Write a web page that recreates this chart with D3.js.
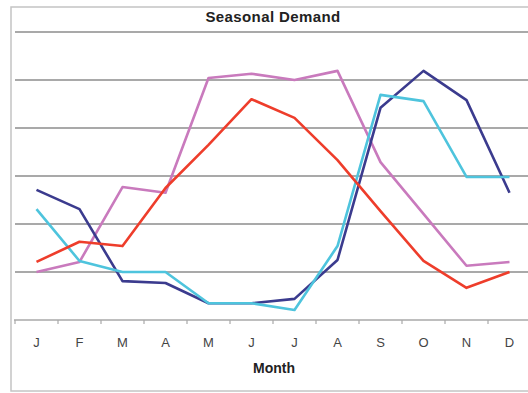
<!DOCTYPE html>
<html>
<head>
<meta charset="utf-8">
<script src="https://cdn.jsdelivr.net/npm/d3@7"></script>
<style>
  html, body { margin: 0; padding: 0; background: #fff; }
  svg { display: block; font-family: "Liberation Sans", Arial, sans-serif; }
</style>
</head>
<body>
<div id="chart"></div>
<script>
// ---- data (units = gridline steps) ----
const months = ['J', 'F', 'M', 'A', 'M', 'J', 'J', 'A', 'S', 'O', 'N', 'D'];
const yTicks = [0, 1, 2, 3, 4, 5, 6];

const pinkSeries = [1.0, 1.21, 2.77, 2.65, 5.04, 5.13, 5.0, 5.19, 3.29, 2.21, 1.13, 1.21];
const navySeries = [2.71, 2.31, 0.81, 0.77, 0.35, 0.35, 0.44, 1.25, 4.42, 5.19, 4.58, 2.65];
const cyanSeries = [2.31, 1.23, 1.0, 1.0, 0.35, 0.35, 0.21, 1.54, 4.69, 4.56, 2.98, 2.98];
const redSeries  = [1.21, 1.63, 1.54, 2.75, 3.65, 4.60, 4.21, 3.33, 2.27, 1.23, 0.67, 1.0];

const series = [
  { name: 'pink', values: pinkSeries, color: '#c97abd' },
  { name: 'navy', values: navySeries, color: '#3b3b8e' },
  { name: 'cyan', values: cyanSeries, color: '#4ec4dd' },
  { name: 'red',  values: redSeries,  color: '#ee3d2b' },
];

// ---- layout ----
const W = 528, H = 393;
const plot = { left: 15, right: 531, top: 32, bottom: 320 };

const svg = d3.select('#chart').append('svg')
  .attr('width', W).attr('height', H);

// outer frame
svg.append('rect')
  .attr('x', 11).attr('y', 7)
  .attr('width', 540).attr('height', 384)
  .attr('fill', 'none').attr('stroke', '#c4c4c4').attr('stroke-width', 1.5);

const x = d3.scaleBand().domain(d3.range(12)).range([plot.left, plot.right]).padding(0);
const cx = i => x(i) + x.bandwidth() / 2;
const y = d3.scaleLinear().domain([0, 6]).range([plot.bottom, plot.top]);

// gridlines
svg.append('g')
  .selectAll('line')
  .data(yTicks.filter(d => d > 0))
  .join('line')
  .attr('x1', plot.left).attr('x2', W)
  .attr('y1', d => y(d)).attr('y2', d => y(d))
  .attr('stroke', '#8c8c8c').attr('stroke-width', 1.6);

// x axis line + boundary ticks
svg.append('line')
  .attr('x1', plot.left - 1).attr('x2', W)
  .attr('y1', y(0)).attr('y2', y(0))
  .attr('stroke', '#a8a8a8').attr('stroke-width', 1.6);

svg.append('g')
  .selectAll('line')
  .data(d3.range(13))
  .join('line')
  .attr('x1', i => plot.left + i * x.bandwidth())
  .attr('x2', i => plot.left + i * x.bandwidth())
  .attr('y1', y(0)).attr('y2', y(0) + 4)
  .attr('stroke', '#a8a8a8').attr('stroke-width', 1.2);

// month labels
const xAxis = d3.axisBottom(x).tickSize(0).tickPadding(0).tickFormat(i => months[i]);
const gx = svg.append('g').attr('transform', `translate(0,${y(0)})`).call(xAxis);
gx.select('.domain').remove();
gx.selectAll('text')
  .attr('dy', 0).attr('y', 27)
  .attr('font-size', 13).attr('fill', '#444')
  .attr('font-family', '"Liberation Sans", Arial, sans-serif');

// lines
const line = d3.line().x((d, i) => cx(i)).y(d => y(d));
svg.append('g')
  .selectAll('path')
  .data(series)
  .join('path')
  .attr('d', d => line(d.values))
  .attr('fill', 'none')
  .attr('stroke', d => d.color)
  .attr('stroke-width', 2.6)
  .attr('stroke-linejoin', 'round');

// titles
svg.append('text')
  .attr('x', 273).attr('y', 22)
  .attr('text-anchor', 'middle')
  .attr('font-size', 15).attr('font-weight', 'bold').attr('fill', '#222')
  .attr('letter-spacing', 0.4)
  .text('Seasonal Demand');

svg.append('text')
  .attr('x', 274).attr('y', 373)
  .attr('text-anchor', 'middle')
  .attr('font-size', 14).attr('font-weight', 'bold').attr('fill', '#222')
  .text('Month');
</script>
</body>
</html>
